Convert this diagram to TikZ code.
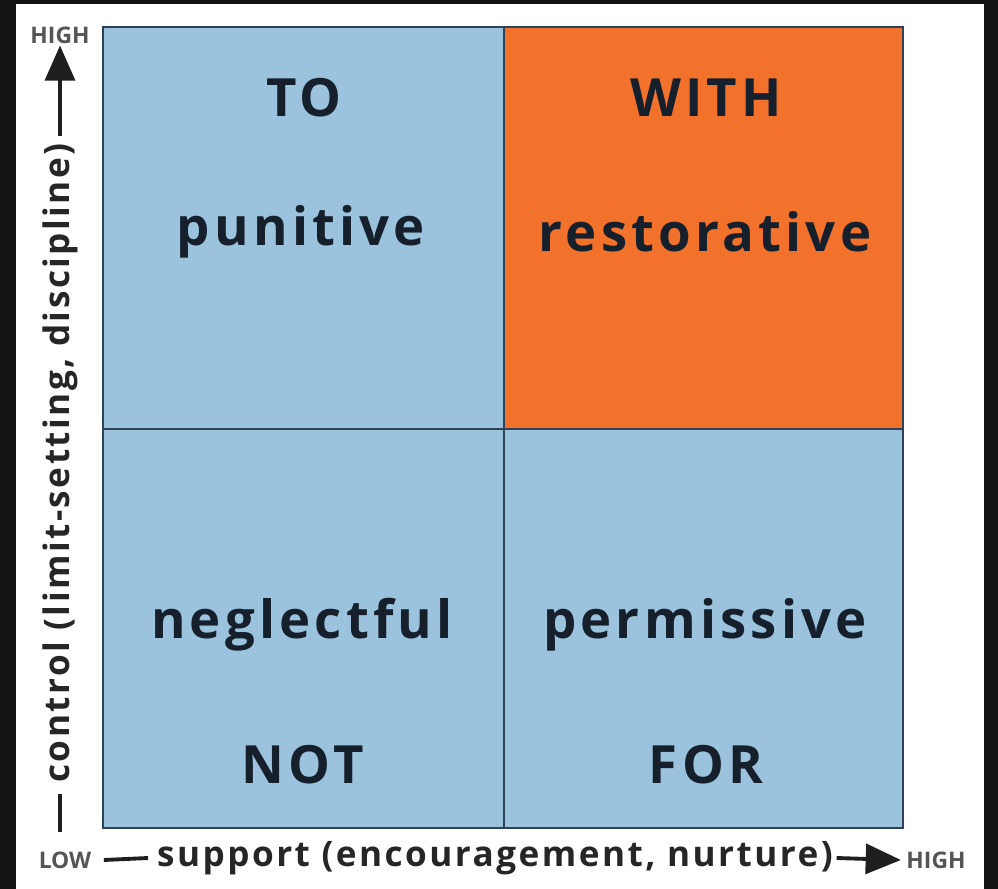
\documentclass[tikz,border=0pt]{standalone}
\usepackage{fontspec}
\setmainfont{Open Sans}
\usetikzlibrary{arrows.meta, positioning}
\definecolor{cellblue}{HTML}{9CC3DE}
\definecolor{cellorange}{HTML}{F2722B}
\definecolor{gridline}{HTML}{2E4257}
\definecolor{axisgray}{HTML}{555555}
\definecolor{inkblue}{HTML}{15202C}

\begin{document}
\begin{tikzpicture}[x=0.02cm, y=-0.02cm,
  big/.style={font=\fontsize{30}{36}\selectfont\bfseries\addfontfeature{LetterSpace=8}, text=inkblue},
  axis/.style={font=\fontsize{20}{24}\selectfont\bfseries\addfontfeature{LetterSpace=7}, text=black!85, inner sep=0pt},
  tick/.style={font=\fontsize{13}{15}\selectfont\bfseries, text=axisgray, inner sep=0pt},
  axisline/.style={black!88, line width=2.2pt},
  axisarrow/.style={axisline, -{Triangle[length=20pt, width=17pt]}}]
%the frame
\fill[black!92] (0,0) rectangle (998,889);
\fill[white] (16,4) rectangle (984,889);

%the cells
\fill[cellblue] (103,27) rectangle (903,828);
\fill[cellorange] (504,27) rectangle (903,429);
\draw[gridline, line width=1.2pt] (504,27) -- (504,828);
\draw[gridline, line width=1.2pt] (103,429) -- (903,429);
\draw[gridline, line width=1.6pt] (103,27) rectangle (903,828);

%the labels
\node[big] (to) at (304,98) {TO};
\node[big] (punitive) at (301,232) {punitive};
\node[big] (with) at (706,98) {WITH};
\node[big] (restorative) at (705,232) {restorative};
\node[big] (neglectful) at (302,625) {neglectful};
\node[big] (permissive) at (705,625) {permissive};
\node[big] (not) at (303,765) {NOT};
\node[big] (for) at (706,765) {FOR};

%the control axis
\node[axis, rotate=90] (control) at (60,463) {control (limit-setting, discipline)};
\node[tick] (yhigh) at (60,35) {HIGH};
\coordinate (ylow) at (60,832);
\draw[axisarrow] ([yshift=4pt]control.east) -- ([yshift=-1pt]yhigh.south);
\draw[axisline] ([yshift=-6pt]control.west) -- (ylow);

%the support axis
\node[axis] (support) at (495,858) {support (encouragement, nurture)};
\node[tick] (xlow) at (65,860) {LOW};
\node[tick] (xhigh) at (936,860) {HIGH};
\draw[axisline] ([xshift=7pt]xlow.east) -- ([xshift=-5pt]support.west);
\draw[axisarrow] ([xshift=2pt]support.east) -- ([xshift=-3pt]xhigh.west);
\end{tikzpicture}
\end{document}
